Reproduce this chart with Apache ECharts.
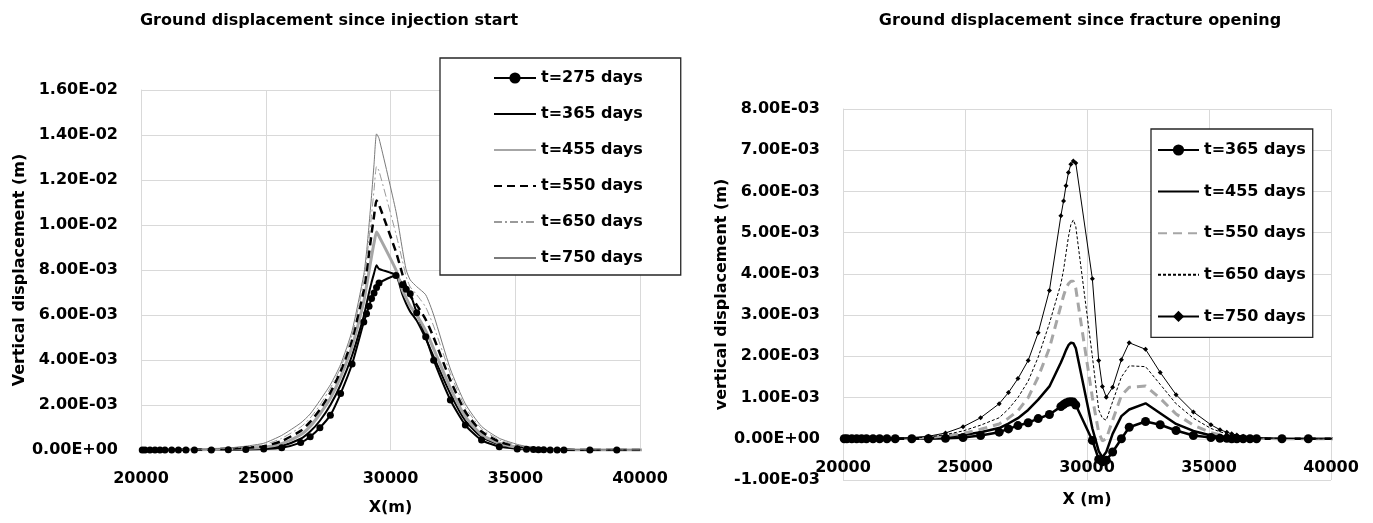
<!DOCTYPE html>
<html>
<head>
<meta charset="utf-8">
<title>Ground displacement</title>
<script src="https://cdn.jsdelivr.net/npm/echarts@6/dist/echarts.min.js"></script>
<style>
  html, body { margin: 0; padding: 0; background: #ffffff; }
  #chart { width: 1373px; height: 523px; }
</style>
</head>
<body>
<div id="chart"></div>
<script>
// Horizontal positions of the surface nodes (m)
const xPositions = [20050, 20160, 20360, 20560, 20760, 20960, 21230, 21500, 21800, 22140,
  22820, 23500, 24200, 24920, 25640, 26400, 26780, 27170, 27590, 28000,
  28460, 28930, 29040, 29140, 29240, 29340, 29440, 29540, 30220, 30480,
  30630, 30790, 31050, 31410, 31730, 32400, 33000, 33650, 34360, 35080,
  35450, 35730, 35930, 36140, 36400, 36680, 36950, 37990, 39070, 40900];

// Vertical displacement since injection start (mm)
const sinceInjection275 = [0, 0, 0, 0, 0, 0, 0, 0, 0, 0,
  0, 0.01, 0.02, 0.04, 0.10, 0.33, 0.59, 0.99, 1.55, 2.51,
  3.82, 5.69, 6.06, 6.39, 6.73, 6.98, 7.22, 7.42, 7.76, 7.35,
  7.15, 6.95, 6.10, 5.03, 3.99, 2.22, 1.11, 0.44, 0.15, 0.05,
  0.03, 0.02, 0.01, 0.01, 0, 0, 0, 0, 0, 0];
const sinceInjection365 = [0, 0, 0, 0, 0, 0, 0, 0, 0, 0,
  0.01, 0.02, 0.04, 0.07, 0.18, 0.50, 0.82, 1.30, 2.00, 2.90,
  4.20, 5.95, 6.50, 7.00, 7.45, 7.85, 8.21, 8.05, 7.76, 6.90,
  6.50, 6.15, 5.75, 4.95, 4.15, 2.50, 1.30, 0.58, 0.24, 0.09,
  0.06, 0.04, 0.03, 0.02, 0.01, 0, 0, 0, 0, 0];
const sinceInjection455 = [0, 0, 0, 0, 0, 0, 0, 0, 0, 0.01,
  0.02, 0.04, 0.07, 0.12, 0.28, 0.68, 1.05, 1.60, 2.30, 3.25,
  4.60, 6.60, 7.30, 7.95, 8.60, 9.20, 9.69, 9.50, 8.00, 7.10,
  6.75, 6.40, 6.00, 5.30, 4.50, 2.75, 1.48, 0.68, 0.30, 0.12,
  0.08, 0.05, 0.04, 0.03, 0.02, 0.01, 0, 0, 0, 0];
const sinceInjection550 = [0, 0, 0, 0, 0, 0, 0, 0.01, 0.01, 0.02,
  0.03, 0.06, 0.10, 0.17, 0.40, 0.85, 1.25, 1.80, 2.55, 3.50,
  4.90, 7.10, 7.90, 8.75, 9.60, 10.40, 11.09, 10.90, 8.80, 7.80,
  7.25, 6.85, 6.45, 5.80, 5.00, 3.10, 1.70, 0.82, 0.37, 0.16,
  0.10, 0.07, 0.05, 0.04, 0.03, 0.02, 0.01, 0, 0, 0];
const sinceInjection650 = [0, 0, 0, 0, 0, 0, 0.01, 0.01, 0.02, 0.03,
  0.04, 0.07, 0.14, 0.23, 0.52, 1.02, 1.42, 2.00, 2.75, 3.65,
  5.10, 7.50, 8.40, 9.40, 10.45, 11.55, 12.60, 12.40, 9.60, 8.40,
  7.70, 7.25, 6.90, 6.35, 5.50, 3.40, 1.90, 0.95, 0.45, 0.20,
  0.13, 0.09, 0.07, 0.05, 0.04, 0.03, 0.02, 0, 0, 0];
const sinceInjection750 = [0, 0, 0, 0, 0, 0.01, 0.01, 0.02, 0.02, 0.03,
  0.05, 0.09, 0.17, 0.30, 0.65, 1.20, 1.60, 2.20, 2.90, 3.80,
  5.30, 7.80, 8.80, 10.00, 11.30, 12.70, 14.05, 13.85, 10.60, 8.90,
  8.00, 7.56, 7.26, 6.90, 6.00, 3.60, 2.05, 1.05, 0.52, 0.25,
  0.16, 0.12, 0.09, 0.07, 0.05, 0.04, 0.03, 0.01, 0, 0];

// Vertical displacement since fracture opening (mm)
const sinceFracture365 = [0, 0, 0, 0, 0, 0, 0, 0, 0, 0,
  0, 0, 0.01, 0.03, 0.08, 0.16, 0.24, 0.32, 0.39, 0.49,
  0.59, 0.78, 0.83, 0.87, 0.89, 0.90, 0.89, 0.82, -0.04, -0.50,
  -0.56, -0.52, -0.32, 0.00, 0.28, 0.42, 0.34, 0.20, 0.08, 0.03,
  0.01, 0.01, 0, 0, 0, 0, 0, 0, 0, 0];
const sinceFracture455 = [0, 0, 0, 0, 0, 0, 0, 0, 0, 0,
  0.01, 0.02, 0.05, 0.09, 0.16, 0.26, 0.37, 0.50, 0.70, 0.95,
  1.27, 1.85, 2.00, 2.15, 2.27, 2.33, 2.32, 2.20, 0.25, -0.30,
  -0.45, -0.32, 0.12, 0.55, 0.71, 0.86, 0.62, 0.36, 0.19, 0.08,
  0.05, 0.03, 0.02, 0.01, 0, 0, 0, 0, 0, 0];
const sinceFracture550 = [0, 0, 0, 0, 0, 0, 0, 0, 0, 0,
  0.01, 0.03, 0.07, 0.13, 0.23, 0.36, 0.50, 0.68, 1.00, 1.50,
  2.20, 3.23, 3.47, 3.65, 3.76, 3.82, 3.82, 3.65, 1.00, 0.15,
  -0.05, 0.00, 0.45, 1.05, 1.25, 1.28, 0.98, 0.60, 0.33, 0.15,
  0.10, 0.07, 0.05, 0.04, 0.03, 0.02, 0.01, 0, 0, 0];
const sinceFracture650 = [0, 0, 0, 0, 0, 0, 0, 0, 0, 0.01,
  0.02, 0.04, 0.10, 0.19, 0.33, 0.51, 0.72, 1.00, 1.40, 1.98,
  2.80, 3.76, 4.10, 4.50, 4.90, 5.20, 5.31, 5.15, 2.00, 0.70,
  0.50, 0.45, 0.90, 1.50, 1.77, 1.75, 1.32, 0.85, 0.50, 0.25,
  0.17, 0.12, 0.09, 0.07, 0.05, 0.03, 0.02, 0.01, 0, 0];
const sinceFracture750 = [0, 0, 0, 0, 0, 0, 0, 0, 0.01, 0.01,
  0.03, 0.06, 0.14, 0.29, 0.51, 0.85, 1.12, 1.46, 1.90, 2.57,
  3.60, 5.41, 5.77, 6.14, 6.46, 6.66, 6.74, 6.69, 3.88, 1.90,
  1.27, 1.01, 1.25, 1.92, 2.33, 2.17, 1.61, 1.07, 0.65, 0.34,
  0.22, 0.16, 0.12, 0.09, 0.06, 0.04, 0.03, 0.01, 0, 0];

// Legend entries
const injectionLabels = ['t=275 days', 't=365 days', 't=455 days', 't=550 days', 't=650 days', 't=750 days'];
const fractureLabels = ['t=365 days', 't=455 days', 't=550 days', 't=650 days', 't=750 days'];

const FONT = 'DejaVu Sans';
const labelText = { fontFamily: FONT, fontWeight: 'bold', fontSize: 16, color: '#000000' };
const GRID_GREY = '#d9d9d9';

// Plot rectangles (px)
const LEFT_GRID = { left: 141, top: 90, width: 499, height: 360 };
const RIGHT_GRID = { left: 843, top: 109, width: 488, height: 371 };
const RIGHT_Y = { min: -0.001, max: 0.008, interval: 0.001 };

// millimetres -> metres, paired with the node positions
function toPairs(mm) {
  return xPositions.map((x, i) => [x, mm[i] / 1000]);
}

// Scientific notation in the spreadsheet style, e.g. 1.60E-02
function sci(v) {
  if (Math.abs(v) < 1e-12) return '0.00E+00';
  const parts = v.toExponential(2).split('e');
  const n = parseInt(parts[1], 10);
  return parts[0] + 'E' + (n < 0 ? '-' : '+') + String(Math.abs(n)).padStart(2, '0');
}

function xAxisFor(gridIndex, name, nameGap, offset) {
  return {
    type: 'value', gridIndex: gridIndex,
    min: 20000, max: 40000, interval: 5000,
    offset: offset,
    axisLine: { show: true, onZero: false, lineStyle: { color: GRID_GREY, width: 1 } },
    axisTick: { show: false },
    splitLine: { show: true, lineStyle: { color: GRID_GREY, width: 1 } },
    axisLabel: Object.assign({ margin: 21, formatter: v => String(v) }, labelText),
    name: name, nameLocation: 'middle', nameGap: nameGap,
    nameTextStyle: labelText
  };
}

function yAxisFor(gridIndex, min, max, interval, name, nameGap) {
  return {
    type: 'value', gridIndex: gridIndex,
    min: min, max: max, interval: interval,
    axisLine: { show: true, onZero: false, lineStyle: { color: GRID_GREY, width: 1 } },
    axisTick: { show: false },
    splitLine: { show: true, lineStyle: { color: GRID_GREY, width: 1 } },
    axisLabel: Object.assign({ margin: 23, formatter: sci }, labelText),
    name: name, nameLocation: 'middle', nameGap: nameGap,
    nameTextStyle: labelText
  };
}

function lineSeries(name, axisIndex, mm, style) {
  return Object.assign({
    name: name, type: 'line',
    xAxisIndex: axisIndex, yAxisIndex: axisIndex,
    data: toPairs(mm),
    symbol: 'none',
    clip: true,
    animation: false
  }, style);
}

const injectionSeries = [
  lineSeries('start|' + injectionLabels[0], 0, sinceInjection275, {
    smooth: 0.2, symbol: 'circle', symbolSize: 7, showSymbol: true,
    itemStyle: { color: '#000000' }, lineStyle: { color: '#000000', width: 2 }
  }),
  lineSeries('start|' + injectionLabels[1], 0, sinceInjection365, {
    smooth: 0.2, itemStyle: { color: '#000000' }, lineStyle: { color: '#000000', width: 2 }
  }),
  lineSeries('start|' + injectionLabels[2], 0, sinceInjection455, {
    smooth: 0.2, itemStyle: { color: '#a6a6a6' }, lineStyle: { color: '#a6a6a6', width: 3 }
  }),
  lineSeries('start|' + injectionLabels[3], 0, sinceInjection550, {
    smooth: 0.2, itemStyle: { color: '#000000' }, lineStyle: { color: '#000000', width: 2.5, type: [8, 5] }
  }),
  lineSeries('start|' + injectionLabels[4], 0, sinceInjection650, {
    smooth: 0.2, itemStyle: { color: '#9a9a9a' }, lineStyle: { color: '#9a9a9a', width: 1, type: [8, 3, 2, 3] }
  }),
  lineSeries('start|' + injectionLabels[5], 0, sinceInjection750, {
    smooth: 0.2, itemStyle: { color: '#7a7a7a' }, lineStyle: { color: '#7a7a7a', width: 1 }
  })
];

const fractureSeries = [
  lineSeries('fracture|' + fractureLabels[0], 1, sinceFracture365, {
    symbol: 'circle', symbolSize: 9, showSymbol: true,
    itemStyle: { color: '#000000' }, lineStyle: { color: '#000000', width: 2.5 }
  }),
  lineSeries('fracture|' + fractureLabels[1], 1, sinceFracture455, {
    itemStyle: { color: '#000000' }, lineStyle: { color: '#000000', width: 2.5 }
  }),
  lineSeries('fracture|' + fractureLabels[2], 1, sinceFracture550, {
    itemStyle: { color: '#a6a6a6' }, lineStyle: { color: '#a6a6a6', width: 3, type: [9, 6] }
  }),
  lineSeries('fracture|' + fractureLabels[3], 1, sinceFracture650, {
    itemStyle: { color: '#000000' }, lineStyle: { color: '#000000', width: 1, type: [3, 2] }
  }),
  lineSeries('fracture|' + fractureLabels[4], 1, sinceFracture750, {
    symbol: 'diamond', symbolSize: 5, showSymbol: true,
    itemStyle: { color: '#000000' }, lineStyle: { color: '#000000', width: 1 }
  })
];

// Legend entries: series drawn without markers get a plain line sample
function legendEntries(seriesList) {
  return seriesList.map(s => s.symbol === 'none'
    ? { name: s.name, itemStyle: { opacity: 0, borderWidth: 0 } }
    : { name: s.name });
}

const stripPrefix = name => name.split('|')[1];

// The right-hand x axis sits on the zero displacement line
const rightZeroOffset = -RIGHT_GRID.height * (0 - RIGHT_Y.min) / (RIGHT_Y.max - RIGHT_Y.min);

const option = {
  backgroundColor: '#ffffff',
  animation: false,
  textStyle: { fontFamily: FONT },
  title: [
    { text: 'Ground displacement since injection start', left: 329, top: 13, textAlign: 'center',
      padding: 0, textStyle: labelText },
    { text: 'Ground displacement since fracture opening', left: 1080, top: 13, textAlign: 'center',
      padding: 0, textStyle: labelText }
  ],
  grid: [
    Object.assign({ containLabel: false, outerBoundsMode: 'none' }, LEFT_GRID),
    Object.assign({ containLabel: false, outerBoundsMode: 'none' }, RIGHT_GRID)
  ],
  xAxis: [
    xAxisFor(0, 'X(m)', 50, 0),
    xAxisFor(1, 'X (m)', 53, rightZeroOffset)
  ],
  yAxis: [
    yAxisFor(0, 0, 0.016, 0.002, 'Vertical displacement (m)', 111),
    yAxisFor(1, RIGHT_Y.min, RIGHT_Y.max, RIGHT_Y.interval, 'vertical displacement (m)', 108)
  ],
  legend: [
    {
      data: legendEntries(injectionSeries),
      formatter: stripPrefix,
      orient: 'vertical', left: 440, top: 58,
      itemWidth: 42, itemHeight: 14, itemGap: 20,
      padding: [12, 38, 9, 53],
      borderColor: '#262626', borderWidth: 1.3, backgroundColor: '#ffffff',
      selectedMode: false,
      textStyle: Object.assign({ lineHeight: 16 }, labelText)
    },
    {
      data: legendEntries(fractureSeries),
      formatter: stripPrefix,
      orient: 'vertical', left: 1151, top: 129,
      itemWidth: 41, itemHeight: 14, itemGap: 25.6,
      padding: [13, 7, 13, 6],
      borderColor: '#262626', borderWidth: 1.3, backgroundColor: '#ffffff',
      selectedMode: false,
      textStyle: Object.assign({ lineHeight: 16 }, labelText)
    }
  ],
  series: injectionSeries.concat(fractureSeries)
};

const chart = echarts.init(document.getElementById('chart'), null, { renderer: 'canvas' });
chart.setOption(option);
</script>
</body>
</html>
